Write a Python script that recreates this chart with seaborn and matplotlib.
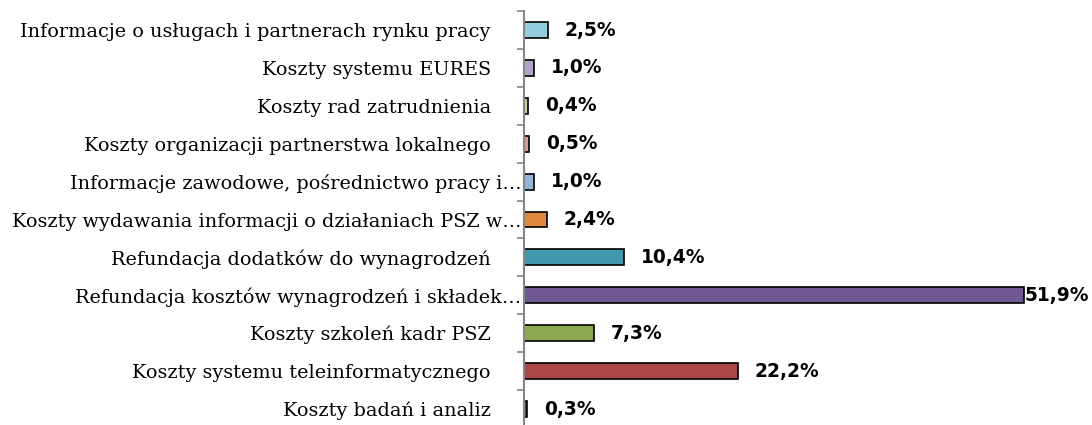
import pandas as pd
import seaborn as sns
import matplotlib.pyplot as plt

# dane z wykresu (od góry do dołu)
kategorie = [
    'Informacje o usługach i partnerach rynku pracy     ',
    'Koszty systemu EURES     ',
    'Koszty rad zatrudnienia     ',
    'Koszty organizacji partnerstwa lokalnego     ',
    'Informacje zawodowe, pośrednictwo pracy i…',
    'Koszty wydawania informacji o działaniach PSZ w…',
    'Refundacja dodatków do wynagrodzeń     ',
    'Refundacja kosztów wynagrodzeń i składek…',
    'Koszty szkoleń kadr PSZ     ',
    'Koszty systemu teleinformatycznego     ',
    'Koszty badań i analiz     ',
]
wartosci = [2.5, 1.0, 0.4, 0.5, 1.0, 2.4, 10.4, 51.9, 7.3, 22.2, 0.3]
kolory = ['#93CDDD', '#B3A2C7', '#C3D69B', '#D99694', '#95B3D7', '#E0883E',
          '#4198AF', '#705892', '#8BA94F', '#AB4646', '#1F497D']

df = pd.DataFrame({'Kategoria': kategorie, 'Udzial': wartosci})

sns.set_style('white')

fig = plt.figure(figsize=(10.92, 4.25), dpi=100)
ax = fig.add_axes([0.48, -0.007, 0.52, 0.981])

sns.barplot(data=df, y='Kategoria', x='Udzial', hue='Kategoria', palette=kolory,
            legend=False, orient='h', width=0.42, edgecolor='black', linewidth=1.2,
            saturation=1, ax=ax)

ax.set_xlim(0, 59.0)
ax.set_xlabel('')
ax.set_ylabel('')
ax.set_xticks([])

# etykiety wartości
for i, v in enumerate(wartosci):
    tekst = f'{v:.1f}%'.replace('.', ',')
    odstep = 1 if v > 50 else 12
    ax.annotate(tekst, (v, i), xytext=(odstep, 0), textcoords='offset points',
                va='center', ha='left', fontsize=13.4, fontweight='bold',
                family='DejaVu Sans', color='black')

# osie
for s in ['top', 'right', 'bottom']:
    ax.spines[s].set_visible(False)
ax.spines['left'].set_color('#868686')
ax.spines['left'].set_linewidth(1.5)

ax.set_yticks([i - 0.5 for i in range(len(kategorie) + 1)], minor=True)
ax.tick_params(axis='y', which='minor', length=5, width=1.2, color='#868686', left=True)
ax.tick_params(axis='y', which='major', length=0, pad=2, labelcolor='black')
for lbl in ax.get_yticklabels():
    lbl.set_family('DejaVu Serif')
    lbl.set_fontsize(13.9)

plt.savefig('out.png', dpi=100)
